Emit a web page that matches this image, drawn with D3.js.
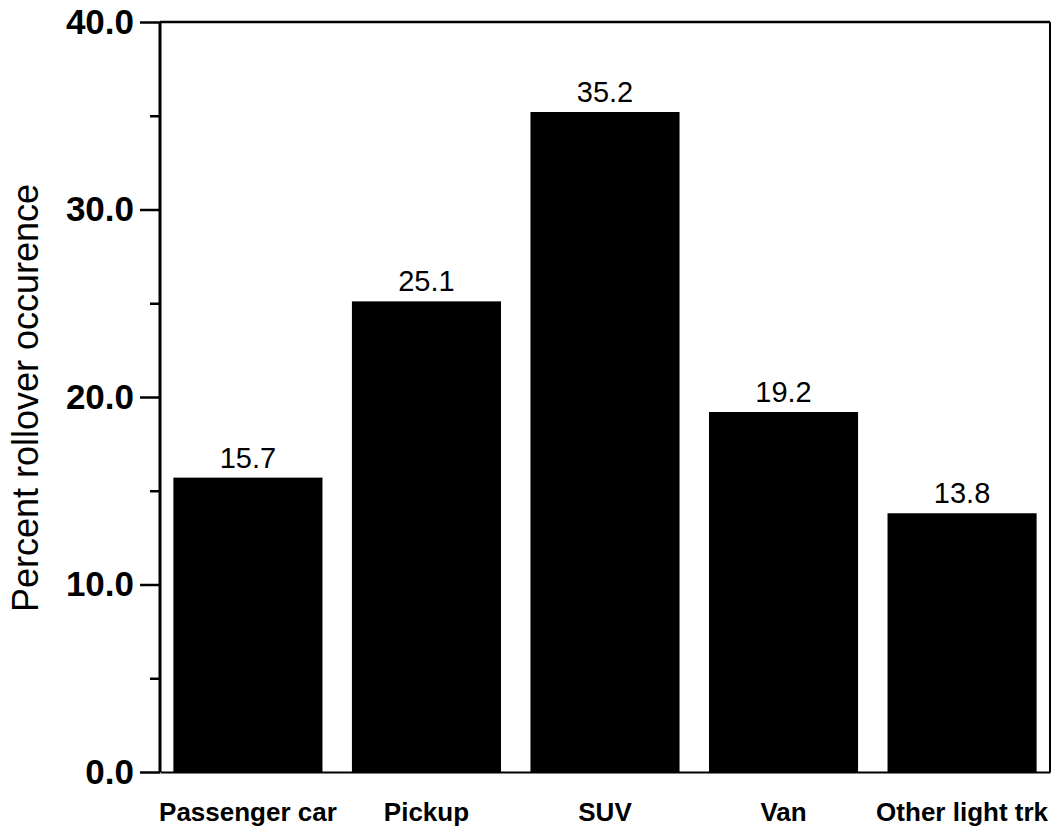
<!DOCTYPE html>
<html>
<head>
<meta charset="utf-8">
<script src="https://cdn.jsdelivr.net/npm/d3@7"></script>
<style>
  html, body { margin: 0; padding: 0; background: #fff; }
  svg { display: block; }
  text { font-family: "Liberation Sans", Arial, sans-serif; fill: #000; }
</style>
</head>
<body>
<svg id="chart" width="1052" height="831"></svg>
<script>
const categories = ["Passenger car", "Pickup", "SUV", "Van", "Other light trk"];
const values = [15.7, 25.1, 35.2, 19.2, 13.8];
const majorTicks = [0, 10, 20, 30, 40];
const minorTicks = [5, 15, 25, 35];
const yTitle = "Percent rollover occurence";

const svg = d3.select("#chart");
const mLeft = 160, mRight = 1050, mTop = 22, mBottom = 772;

const x = d3.scaleBand().domain(categories).range([mLeft, mRight])
  .paddingInner(0.165).paddingOuter(0.075);
const y = d3.scaleLinear().domain([0, 40]).range([mBottom, mTop]);

// bars
svg.append("g").selectAll("rect").data(values).join("rect")
  .attr("x", (d, i) => x(categories[i]))
  .attr("width", x.bandwidth())
  .attr("y", d => y(d))
  .attr("height", d => y(0) - y(d))
  .attr("fill", "#000");

// value labels
svg.append("g").selectAll("text").data(values).join("text")
  .attr("x", (d, i) => x(categories[i]) + x.bandwidth() / 2)
  .attr("y", d => y(d) - 10)
  .attr("text-anchor", "middle")
  .style("font-size", "29px")
  .text(d => d.toFixed(1));

// frame top & right
svg.append("line").attr("x1", mLeft).attr("x2", mRight).attr("y1", mTop).attr("y2", mTop)
  .attr("stroke", "#000").attr("stroke-width", 2.5);
svg.append("line").attr("x1", mRight).attr("x2", mRight).attr("y1", mTop).attr("y2", mBottom)
  .attr("stroke", "#000").attr("stroke-width", 2);

// bottom axis
const xAxis = svg.append("g").attr("transform", `translate(0,${mBottom})`)
  .call(d3.axisBottom(x).tickSize(0).tickPadding(31));
xAxis.select(".domain").attr("stroke", "#000").attr("stroke-width", 2);
xAxis.selectAll("text").style("font-size", "26px").style("font-weight", "bold");

// left axis minor ticks
const yMinor = svg.append("g").attr("transform", `translate(${mLeft},0)`)
  .call(d3.axisLeft(y).tickValues(minorTicks).tickSize(10).tickFormat(""));
yMinor.select(".domain").remove();
yMinor.selectAll("line").attr("stroke-width", 2.5);

// left axis major
const yAxis = svg.append("g").attr("transform", `translate(${mLeft},0)`)
  .call(d3.axisLeft(y).tickValues(majorTicks).tickSize(20).tickPadding(6).tickFormat(d3.format(".1f")));
yAxis.select(".domain").attr("stroke-width", 3).attr("d", `M0,${mTop}V${mBottom}`);
yAxis.selectAll("line").attr("stroke-width", 2.5);
yAxis.selectAll("text").style("font-size", "35px").style("font-weight", "bold");

// y title
svg.append("text")
  .attr("transform", `translate(38,398) rotate(-90)`)
  .attr("text-anchor", "middle")
  .style("font-size", "36px")
  .text(yTitle);
</script>
</body>
</html>
